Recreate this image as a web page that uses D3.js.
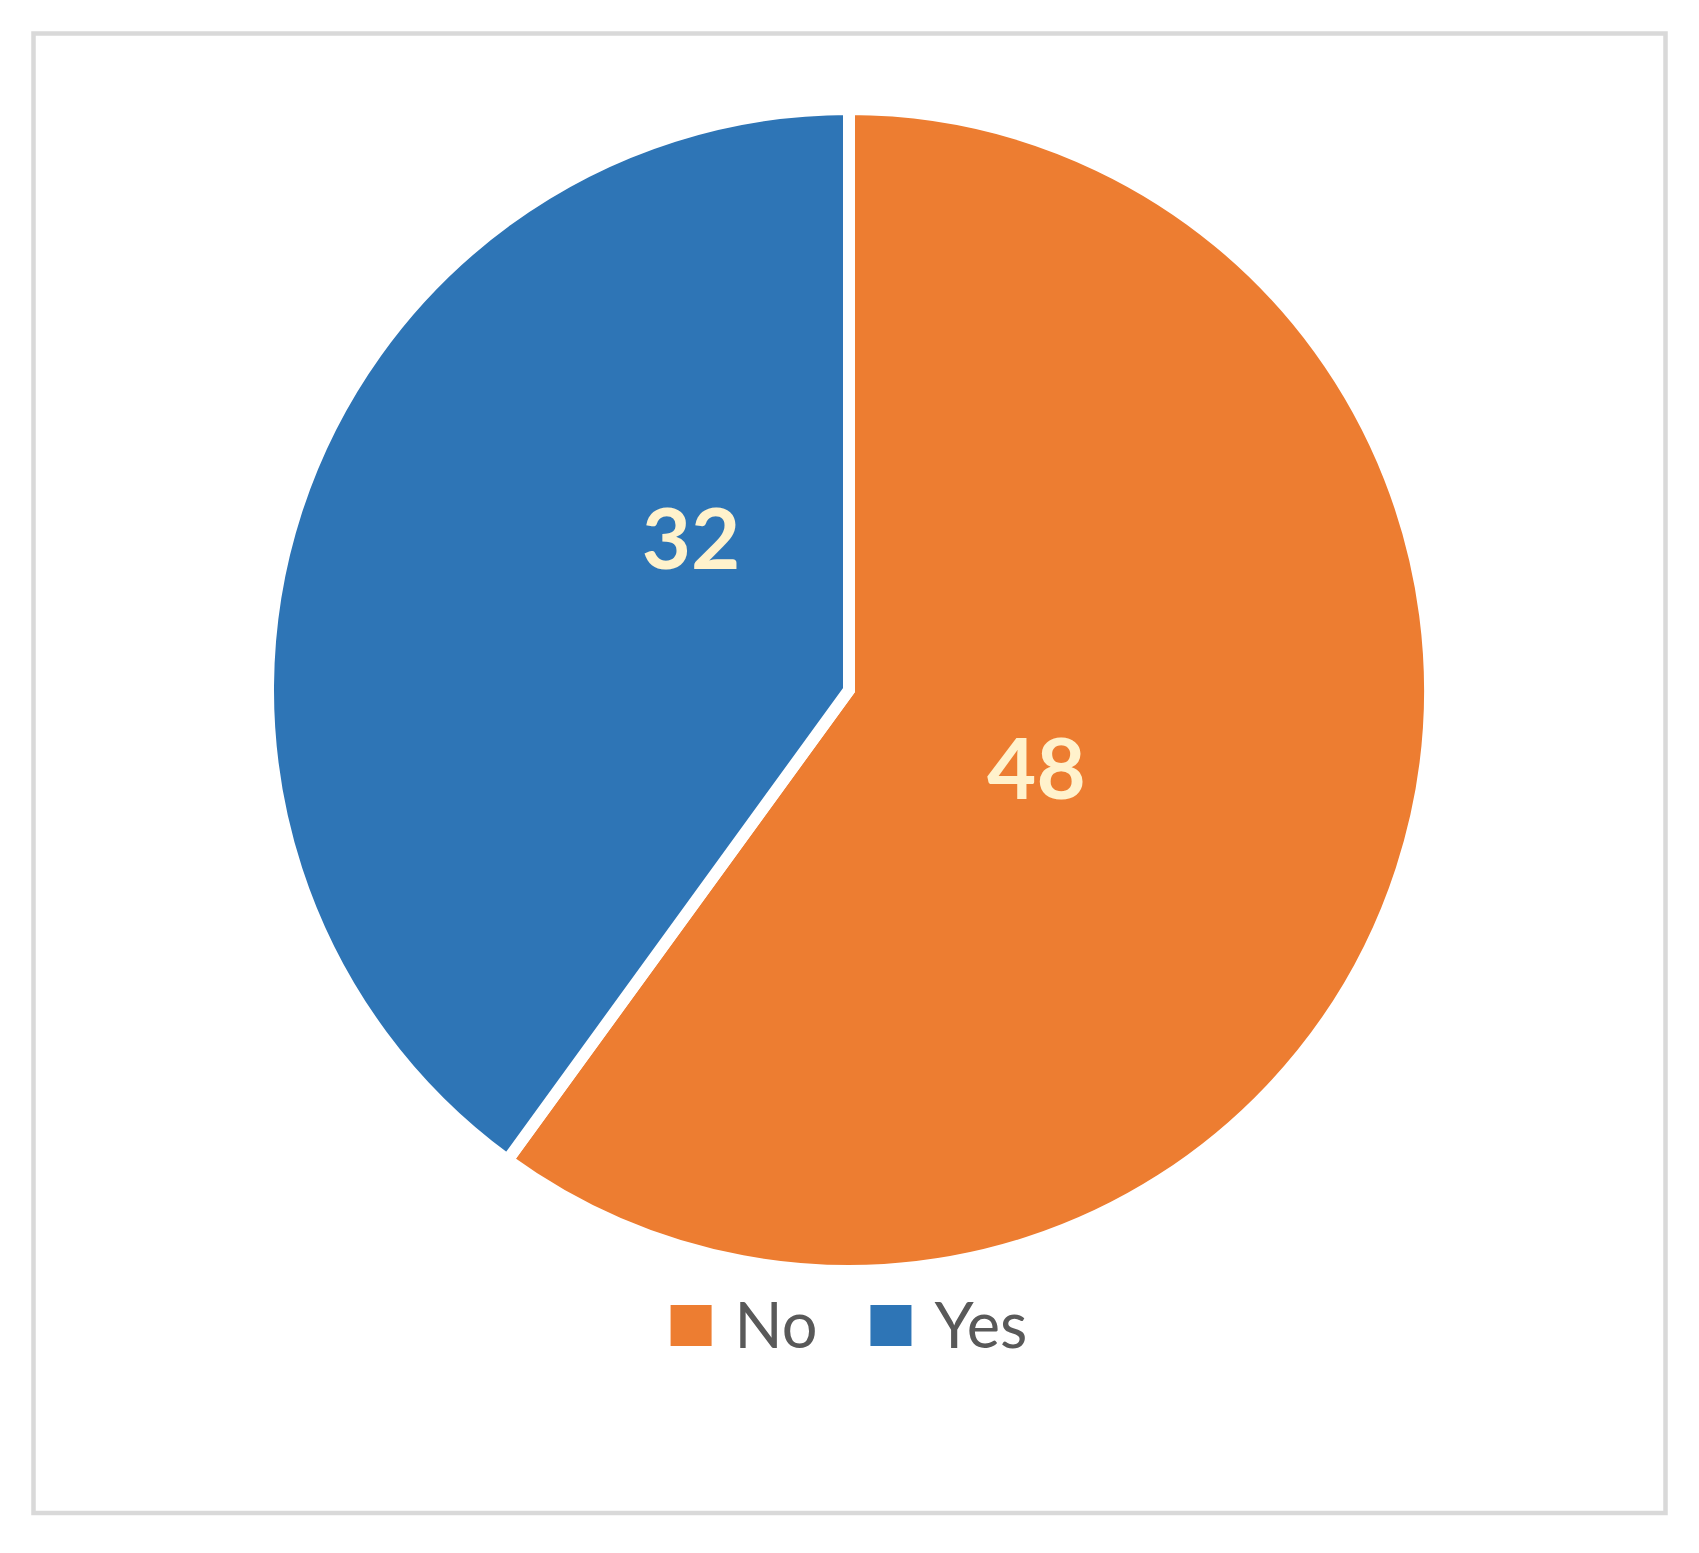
<!DOCTYPE html>
<html>
<head>
<meta charset="utf-8">
<script src="https://cdn.jsdelivr.net/npm/d3@7"></script>
<style>
  html, body { margin: 0; padding: 0; background: #fff; }
  svg { display: block; }
</style>
</head>
<body>
<div id="chart"></div>
<script>
// data
const categories = ['No', 'Yes'];
const values = [48, 32];

const colors = { No: '#ED7D31', Yes: '#2E75B6' };
// small angle nudges (deg) so labels sit where the original put them
const labelShift = { No: 4.6, Yes: 25.8 };

const W = 1699, H = 1553;
const cx = 849, cy = 690;
const radius = 575;        // visible radius
const gapWidth = 12;       // white separator between slices

const svg = d3.select('#chart').append('svg')
    .attr('width', W)
    .attr('height', H);

svg.append('rect')
    .attr('x', 0).attr('y', 0)
    .attr('width', W).attr('height', H)
    .attr('fill', '#fff');

// chart area border
svg.append('rect')
    .attr('x', 33.5).attr('y', 33.5)
    .attr('width', 1665.5 - 33.5).attr('height', 1513 - 33.5)
    .attr('fill', 'none')
    .attr('stroke', '#D9D9D9')
    .attr('stroke-width', 4.5);

const data = categories.map((c, i) => ({ name: c, value: values[i] }));

const pie = d3.pie()
    .sort(null)
    .value(d => d.value)
    .startAngle(0)
    .endAngle(2 * Math.PI);

const arc = d3.arc()
    .innerRadius(0)
    .outerRadius(radius + gapWidth / 2);

const g = svg.append('g')
    .attr('transform', `translate(${cx},${cy})`);

const arcs = pie(data);

g.selectAll('.slice')
    .data(arcs)
    .join('path')
    .attr('class', 'slice')
    .attr('d', arc)
    .attr('fill', d => colors[d.data.name])
    .attr('stroke', '#fff')
    .attr('stroke-width', gapWidth)
    .attr('stroke-linejoin', 'miter');

// data labels
const labelR = d => d.data.name === 'No' ? 203 : 219;
g.selectAll('.lbl')
    .data(arcs)
    .join('text')
    .attr('class', 'lbl')
    .attr('transform', d => {
        const a = (d.startAngle + d.endAngle) / 2 + labelShift[d.data.name] * Math.PI / 180;
        const r = labelR(d);
        return `translate(${r * Math.sin(a)},${-r * Math.cos(a)})`;
    })
    .attr('text-anchor', 'middle')
    .attr('dy', '0.36em')
    .attr('font-family', 'Lato, "Liberation Sans", sans-serif')
    .attr('font-weight', 'bold')
    .attr('font-size', 85)
    .attr('fill', '#FFF2CC')
    .text(d => d.data.value);

// legend
const legend = svg.append('g').attr('class', 'legend');
const sw = 41, textGap = 23, itemGap = 53;
const items = legend.selectAll('.item')
    .data(categories)
    .join('g')
    .attr('class', 'item');

items.append('rect')
    .attr('width', sw)
    .attr('height', sw)
    .attr('y', -sw / 2)
    .attr('fill', d => colors[d]);

items.append('text')
    .attr('x', sw + textGap)
    .attr('dy', '0.36em')
    .attr('font-family', 'Lato, "Liberation Sans", sans-serif')
    .attr('font-size', 63)
    .attr('fill', '#595959')
    .text(d => d);

let xoff = 0;
items.each(function () {
    const tw = d3.select(this).select('text').node().getComputedTextLength();
    d3.select(this).attr('transform', `translate(${xoff},0)`);
    xoff += sw + textGap + tw + itemGap;
});
const legendW = xoff - itemGap;
legend.attr('transform', `translate(${cx - legendW / 2},1325.5)`);
</script>
</body>
</html>
